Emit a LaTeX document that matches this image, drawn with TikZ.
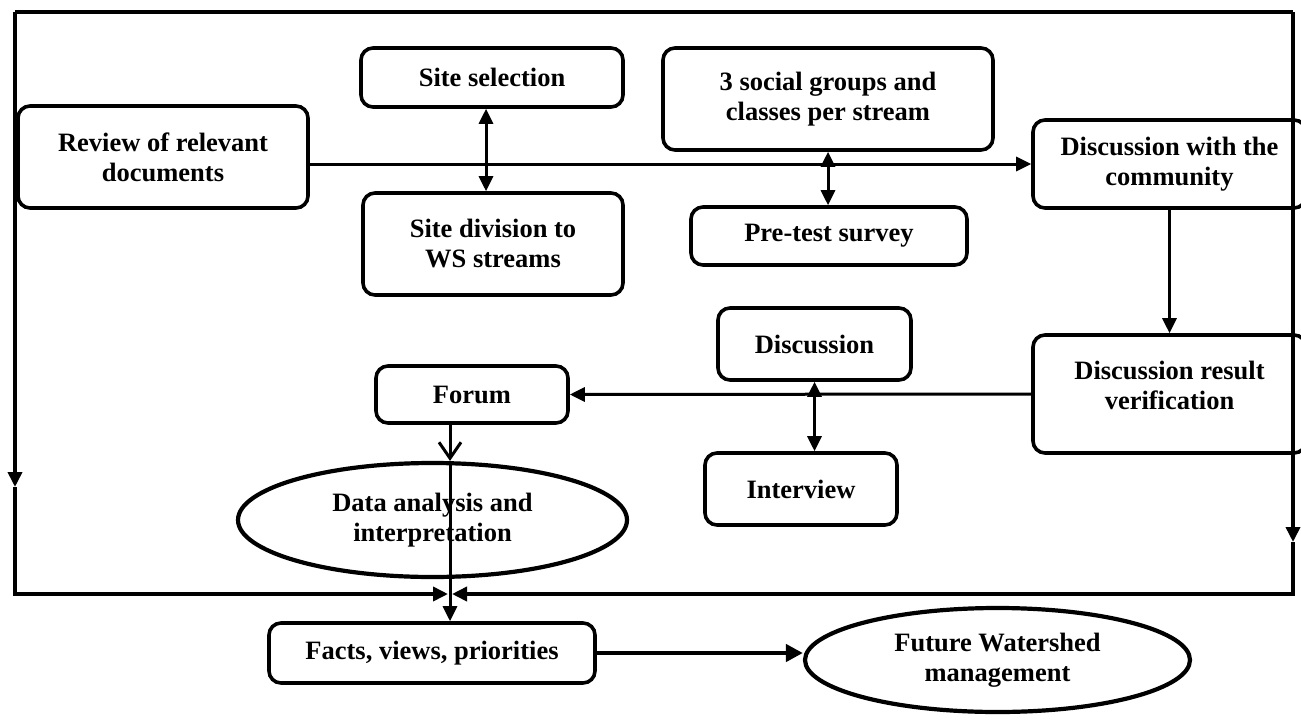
\documentclass[tikz,border=0pt]{standalone}
\usepackage{fontspec}
\setmainfont{Liberation Serif}
\usetikzlibrary{arrows.meta,shapes.geometric}
\tikzset{
  box/.style={draw, line width=3.6pt, rounded corners=12pt, align=center, inner sep=0pt, font=\fontsize{26.5}{30}\selectfont\bfseries},
  oval/.style={draw, ellipse, line width=4.2pt, align=center, inner sep=0pt, font=\fontsize{26.5}{30}\selectfont\bfseries},
  conn/.style={line width=3pt},
  thickconn/.style={line width=4.5pt},
  frame/.style={line width=3.6pt},
  tri/.tip={Triangle[length=15pt,width=14pt]},
  barb/.tip={Straight Barb[length=16pt,width=22pt,line width=3pt]}
}
\begin{document}
\begin{tikzpicture}[x=1pt,y=-1pt]
\useasboundingbox (0,0) rectangle (1301,720);
\clip (0,0) rectangle (1301,720);

% nodes
\node[box, minimum width=290, minimum height=102] (review) at (163,157) {Review of relevant\\documents};
\node[box, minimum width=262, minimum height=59] (sitesel) at (492,77.5) {Site selection};
\node[box, minimum width=260, minimum height=102] (sitediv) at (493,244) {Site division to\\WS streams};
\node[box, minimum width=330, minimum height=102] (social) at (828,99) {3 social groups and\\classes per stream};
\node[box, minimum width=276, minimum height=58] (pretest) at (829,236) {Pre-test survey};
\node[box, minimum width=273, minimum height=88] (dcomm) at (1169.5,164) {Discussion with the\\community};
\node[box, minimum width=273, minimum height=118] (dver) at (1169.5,394) {Discussion result\\verification\\[-12pt]{}};
\node[box, minimum width=193, minimum height=72] (disc) at (814.5,344) {Discussion};
\node[box, minimum width=192, minimum height=72] (intv) at (801,489) {Interview};
\node[box, minimum width=192, minimum height=57] (forum) at (472,394.5) {Forum};
\node[oval, minimum width=389, minimum height=114] (data) at (432.5,520) {Data analysis and\\interpretation};
\node[box, minimum width=326, minimum height=60] (facts) at (432,653) {Facts, views, priorities};
\node[oval, minimum width=385, minimum height=104] (future) at (997.5,660) {Future Watershed\\management};

% frame
\coordinate (tl) at (15,12);
\coordinate (tr) at (1293,12);
\coordinate (la) at (15,487);
\coordinate (ra) at (1293,542);
\coordinate (bm) at (450,594);
\draw[frame] (tl) -- (tr);
\draw[frame,-tri] (tl) -- (la);
\draw[frame,-tri] (la) |- ([xshift=-2pt]bm);
\draw[frame,-tri] (tr) -- (ra);
\draw[frame,-tri] (ra) |- ([xshift=2pt]bm);

% connectors
\draw[conn,-tri] (review.east |- dcomm.west) -- (dcomm.west);
\draw[conn,tri-tri] ([xshift=-6pt]sitesel.south) -- ([xshift=-7pt]sitediv.north);
\draw[conn,tri-tri] (social.south) -- (social.south |- pretest.north);
\draw[conn,-tri] (dcomm.south) -- (dver.north);
\draw[conn,-tri] (dver.west) -- (forum.east);
\draw[conn,tri-tri] (disc.south) -- (disc.south |- intv.north);
\coordinate (fx) at (450,0);
\draw[conn,-barb] (fx |- forum.south) -- (fx |- data.north);
\draw[conn,-tri] (fx |- data.north) -- (fx |- facts.north);
\draw[thickconn,-{Triangle[length=17pt,width=17pt]}] (facts.east) -- (facts.east -| future.west);
\end{tikzpicture}
\end{document}
